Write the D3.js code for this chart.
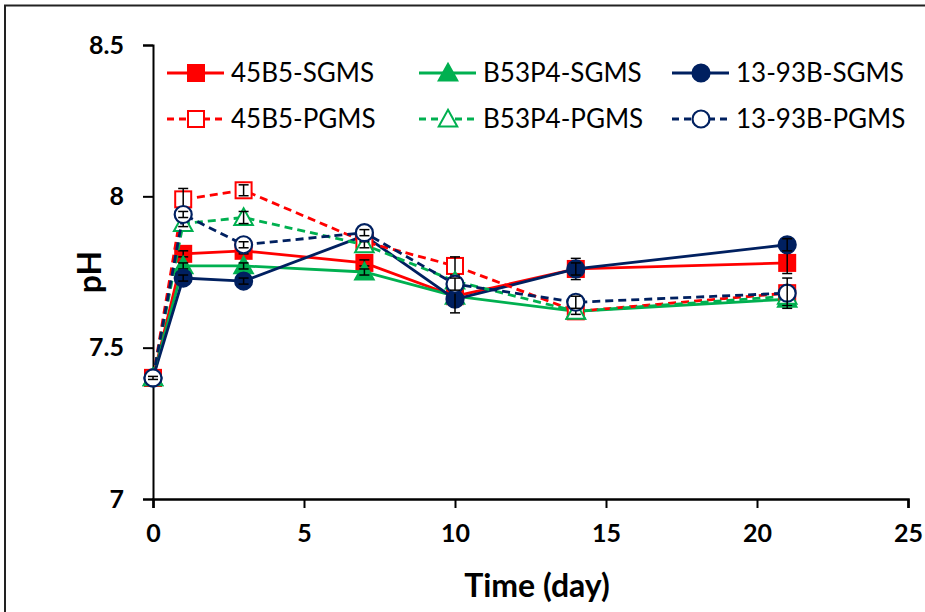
<!DOCTYPE html>
<html>
<head>
<meta charset="utf-8">
<script src="https://cdn.jsdelivr.net/npm/d3@7"></script>
<style>
  body { margin: 0; background: #fff; }
  text { font-family: Lato, "Open Sans", sans-serif; }
</style>
</head>
<body>
<div id="app"></div>
<script>
// time points (day)
const days = [0, 1, 3, 7, 10, 14, 21];

// pH values
const s45B5 = [7.40, 7.81, 7.82, 7.78, 7.67, 7.76, 7.78];
const sB53P4 = [7.40, 7.77, 7.77, 7.75, 7.67, 7.62, 7.66];
const s1393B = [7.40, 7.73, 7.72, 7.87, 7.66, 7.76, 7.84];
const p45B5 = [7.40, 7.99, 8.02, 7.85, 7.77, 7.62, 7.68];
const pB53P4 = [7.40, 7.91, 7.93, 7.84, 7.72, 7.62, 7.67];
const p1393B = [7.40, 7.94, 7.84, 7.88, 7.71, 7.65, 7.68];

// error (+/-)
const e45B5 = [0.005, 0.01, 0.01, 0.01, 0.02, 0.035, 0.035];
const eB53P4 = [0.005, 0.01, 0.01, 0.01, 0.01, 0.01, 0.02];
const e1393B = [0.005, 0.01, 0.01, 0.01, 0.045, 0.02, 0.02];
const ep45B5 = [0.005, 0.036, 0.018, 0.01, 0.03, 0.01, 0.02];
const epB53P4 = [0.005, 0.01, 0.02, 0.01, 0.01, 0.01, 0.01];
const ep1393B = [0.005, 0.01, 0.01, 0.01, 0.02, 0.02, 0.05];

const xTicks = [0, 5, 10, 15, 20, 25];
const yTicks = [7, 7.5, 8, 8.5];

const series = [
  { name: "45B5-SGMS", values: s45B5, err: e45B5, color: "#ff0000", shape: "square", open: false },
  { name: "B53P4-SGMS", values: sB53P4, err: eB53P4, color: "#00b050", shape: "triangle", open: false },
  { name: "13-93B-SGMS", values: s1393B, err: e1393B, color: "#002060", shape: "circle", open: false },
  { name: "45B5-PGMS", values: p45B5, err: ep45B5, color: "#ff0000", shape: "square", open: true },
  { name: "B53P4-PGMS", values: pB53P4, err: epB53P4, color: "#00b050", shape: "triangle", open: true },
  { name: "13-93B-PGMS", values: p1393B, err: ep1393B, color: "#002060", shape: "circle", open: true }
];

const w = 925, h = 612;

const svg = d3.select("#app").append("svg")
  .attr("width", w)
  .attr("height", h);

// outer frame (only top and left visible)
svg.append("path")
  .attr("d", "M5,612 L5,5.5 L925,5.5")
  .attr("fill", "none")
  .attr("stroke", "#222")
  .attr("stroke-width", 2);

const x = d3.scaleLinear().domain([0, 25]).range([153, 908]);
const y = d3.scaleLinear().domain([7, 8.5]).range([499, 45]);

// axes
const xAxis = svg.append("g")
  .attr("transform", "translate(0,499)")
  .call(d3.axisBottom(x).tickValues(xTicks).tickSize(9).tickPadding(16).tickFormat(d3.format("d")));
xAxis.select(".domain").attr("stroke", "#000").attr("stroke-width", 2.5);
xAxis.selectAll(".tick line").attr("stroke", "#000").attr("stroke-width", 2);
xAxis.selectAll("text")
  .attr("font-size", 25).attr("font-weight", "bold").attr("fill", "#000");

const yAxis = svg.append("g")
  .attr("transform", "translate(153,0)")
  .call(d3.axisLeft(y).tickValues(yTicks).tickSize(10).tickPadding(19).tickFormat(d => d));
yAxis.select(".domain").attr("stroke", "#000").attr("stroke-width", 2);
yAxis.selectAll(".tick line").attr("stroke", "#000").attr("stroke-width", 2);
yAxis.selectAll("text")
  .attr("font-size", 25).attr("font-weight", "bold").attr("fill", "#000");

// axis titles
svg.append("text")
  .attr("x", 537).attr("y", 597)
  .attr("text-anchor", "middle")
  .attr("font-size", 32).attr("font-weight", "bold")
  .text("Time (day)");

svg.append("text")
  .attr("transform", "translate(101,272) rotate(-90)")
  .attr("text-anchor", "middle")
  .attr("font-size", 32).attr("font-weight", "bold")
  .text("pH");

function drawMarker(g, s, cx, cy, size) {
  const fill = s.open ? "#fff" : s.color;
  if (s.shape === "square") {
    g.append("rect")
      .attr("x", cx - size / 2).attr("y", cy - size / 2)
      .attr("width", size).attr("height", size)
      .attr("fill", fill).attr("stroke", s.color).attr("stroke-width", 2);
  } else if (s.shape === "triangle") {
    const r = size * 0.58;
    g.append("path")
      .attr("d", `M${cx},${cy - r} L${cx + r},${cy + r * 0.8} L${cx - r},${cy + r * 0.8} Z`)
      .attr("fill", fill).attr("stroke", s.color).attr("stroke-width", 2);
  } else {
    g.append("circle")
      .attr("cx", cx).attr("cy", cy).attr("r", size / 2 + 0.5)
      .attr("fill", fill).attr("stroke", s.color).attr("stroke-width", 2.2);
  }
}

const line = d3.line()
  .x((d, i) => x(days[i]))
  .y(d => y(d));

series.forEach(s => {
  const g = svg.append("g");
  g.append("path")
    .attr("d", line(s.values))
    .attr("fill", "none")
    .attr("stroke", s.color)
    .attr("stroke-width", 2.8)
    .attr("stroke-dasharray", s.open ? "8,5" : null);

  s.values.forEach((v, i) => drawMarker(g, s, x(days[i]), y(v), 16));

  // error bars, drawn over the markers
  s.values.forEach((v, i) => {
    const e = s.err[i];
    const cx = x(days[i]);
    g.append("line")
      .attr("x1", cx).attr("x2", cx)
      .attr("y1", y(v - e)).attr("y2", y(v + e))
      .attr("stroke", "#000").attr("stroke-width", 1.5);
    [v - e, v + e].forEach(t => {
      g.append("line")
        .attr("x1", cx - 5).attr("x2", cx + 5)
        .attr("y1", y(t)).attr("y2", y(t))
        .attr("stroke", "#000").attr("stroke-width", 1.5);
    });
  });
});

// legend
const legCols = [167, 419, 672];
const legRows = [73, 119];
series.forEach((s, i) => {
  const lx = legCols[i % 3];
  const ly = legRows[Math.floor(i / 3)];
  const g = svg.append("g");
  g.append("line")
    .attr("x1", lx).attr("x2", lx + 57)
    .attr("y1", ly).attr("y2", ly)
    .attr("stroke", s.color).attr("stroke-width", 2.8)
    .attr("stroke-dasharray", s.open ? "7,5" : null);
  drawMarker(g, s, lx + 29, ly, 16);
  g.append("text")
    .attr("x", lx + 64).attr("y", ly + 9)
    .attr("font-size", 26)
    .attr("fill", "#000")
    .text(s.name);
});
</script>
</body>
</html>
